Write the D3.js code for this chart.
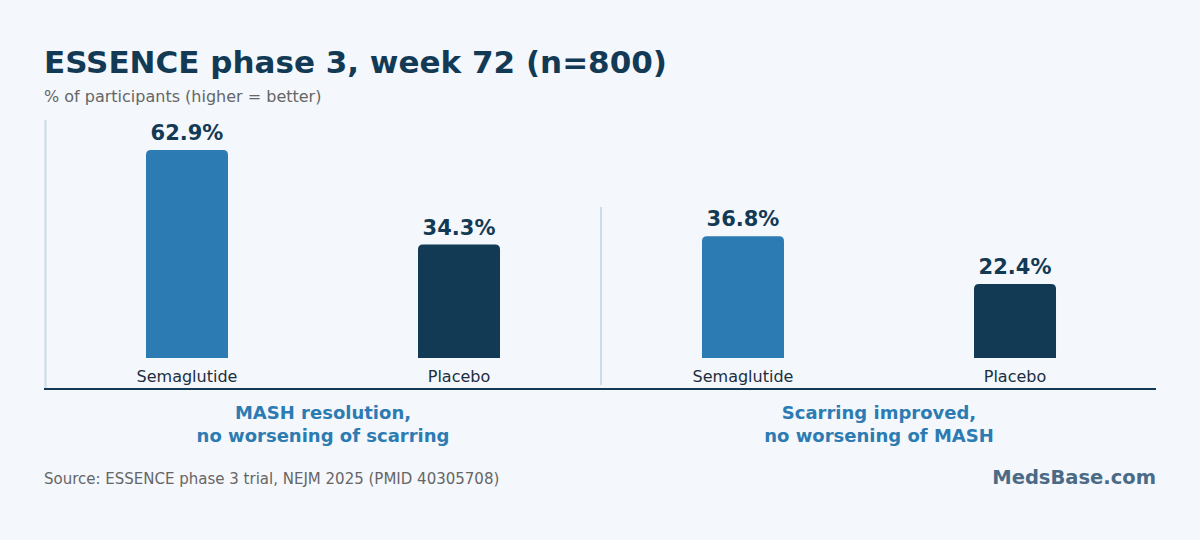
<!DOCTYPE html>
<html>
<head>
<meta charset="utf-8">
<script src="https://cdn.jsdelivr.net/npm/d3@7"></script>
<style>
  body { margin: 0; background: #f4f7fb; }
  svg { display: block; font-family: "DejaVu Sans", sans-serif; }
</style>
</head>
<body>
<svg class="chart"></svg>
<script>
var width = 1200, height = 540;

// data
var groups = ["MASH resolution,\nno worsening of scarring", "Scarring improved,\nno worsening of MASH"];
var arms = ["Semaglutide", "Placebo"];
var semaglutide = [62.9, 36.8];
var placebo = [34.3, 22.4];
var armColors = ["#2c7bb2", "#133a55"];

var chart = d3.select(".chart")
    .attr("width", width)
    .attr("height", height);

chart.append("rect")
    .attr("width", width).attr("height", height)
    .attr("fill", "#f4f7fb");

// title + subtitle
chart.append("text")
    .attr("x", 44).attr("y", 73)
    .attr("font-size", 31).attr("font-weight", "bold")
    .attr("fill", "#133a55")
    .text("ESSENCE phase 3, week 72 (n=800)");

chart.append("text")
    .attr("x", 44).attr("y", 102)
    .attr("font-size", 16).attr("fill", "#666")
    .text("% of participants (higher = better)");

var left = 44, right = 1156, base = 358;

var x0 = d3.scaleBand()
    .domain(groups)
    .range([left, right]);

var x1 = d3.scalePoint()
    .domain(arms)
    .range([1, x0.bandwidth() + 1])
    .padding(0.522);

var y = d3.scaleLinear()
    .domain([0, 62.9])
    .range([base, 150]);

var barW = 82, r = 5;

// group separators
chart.append("line")
    .attr("x1", left + 1.5).attr("x2", left + 1.5)
    .attr("y1", 120).attr("y2", 388)
    .attr("stroke", "#cddbe6").attr("stroke-width", 2);

chart.append("line")
    .attr("x1", x0(groups[1]) + 1).attr("x2", x0(groups[1]) + 1)
    .attr("y1", 207).attr("y2", 385)
    .attr("stroke", "#cddbe6").attr("stroke-width", 2);

var rows = groups.map(function(g, i) {
    return { group: g, values: [
        { arm: arms[0], v: semaglutide[i], c: armColors[0] },
        { arm: arms[1], v: placebo[i], c: armColors[1] }
    ]};
});

function topRounded(x, y0, w, h, r) {
    return "M" + x + "," + (y0 + h) +
        "V" + (y0 + r) +
        "Q" + x + "," + y0 + " " + (x + r) + "," + y0 +
        "H" + (x + w - r) +
        "Q" + (x + w) + "," + y0 + " " + (x + w) + "," + (y0 + r) +
        "V" + (y0 + h) + "Z";
}

var g = chart.selectAll("g.grp")
    .data(rows)
    .enter().append("g")
    .attr("class", "grp")
    .attr("transform", function(d) { return "translate(" + x0(d.group) + ",0)"; });

var bar = g.selectAll("g.bar")
    .data(function(d) { return d.values; })
    .enter().append("g")
    .attr("class", "bar");

bar.append("path")
    .attr("fill", function(d) { return d.c; })
    .attr("d", function(d) {
        return topRounded(x1(d.arm) - barW / 2, y(d.v), barW, base - y(d.v), r);
    });

bar.append("text")
    .attr("x", function(d) { return x1(d.arm); })
    .attr("y", function(d) { return y(d.v) - 10; })
    .attr("text-anchor", "middle")
    .attr("font-size", 21).attr("font-weight", "bold")
    .attr("fill", "#133a55")
    .text(function(d) { return d.v.toFixed(1) + "%"; });

bar.append("text")
    .attr("x", function(d) { return x1(d.arm); })
    .attr("y", 382)
    .attr("text-anchor", "middle")
    .attr("font-size", 16)
    .attr("fill", "#1c2e3e")
    .text(function(d) { return d.arm; });

// group labels
g.append("text")
    .attr("text-anchor", "middle")
    .attr("font-size", 18).attr("font-weight", "bold")
    .attr("fill", "#2c7bb2")
    .selectAll("tspan")
    .data(function(d) { return d.group.split("\n"); })
    .enter().append("tspan")
    .attr("x", x0.bandwidth() / 2 + 1)
    .attr("y", function(d, i) { return 419 + i * 23; })
    .text(function(d) { return d; });

// baseline
chart.append("line")
    .attr("x1", left).attr("x2", right)
    .attr("y1", 389).attr("y2", 389)
    .attr("stroke", "#133a55").attr("stroke-width", 2);

// footer
chart.append("text")
    .attr("x", 44).attr("y", 484)
    .attr("font-size", 15).attr("fill", "#666")
    .text("Source: ESSENCE phase 3 trial, NEJM 2025 (PMID 40305708)");

chart.append("text")
    .attr("x", right).attr("y", 484)
    .attr("text-anchor", "end")
    .attr("font-size", 19.5).attr("font-weight", "bold")
    .attr("fill", "#4a6a85")
    .text("MedsBase.com");
</script>
</body>
</html>
